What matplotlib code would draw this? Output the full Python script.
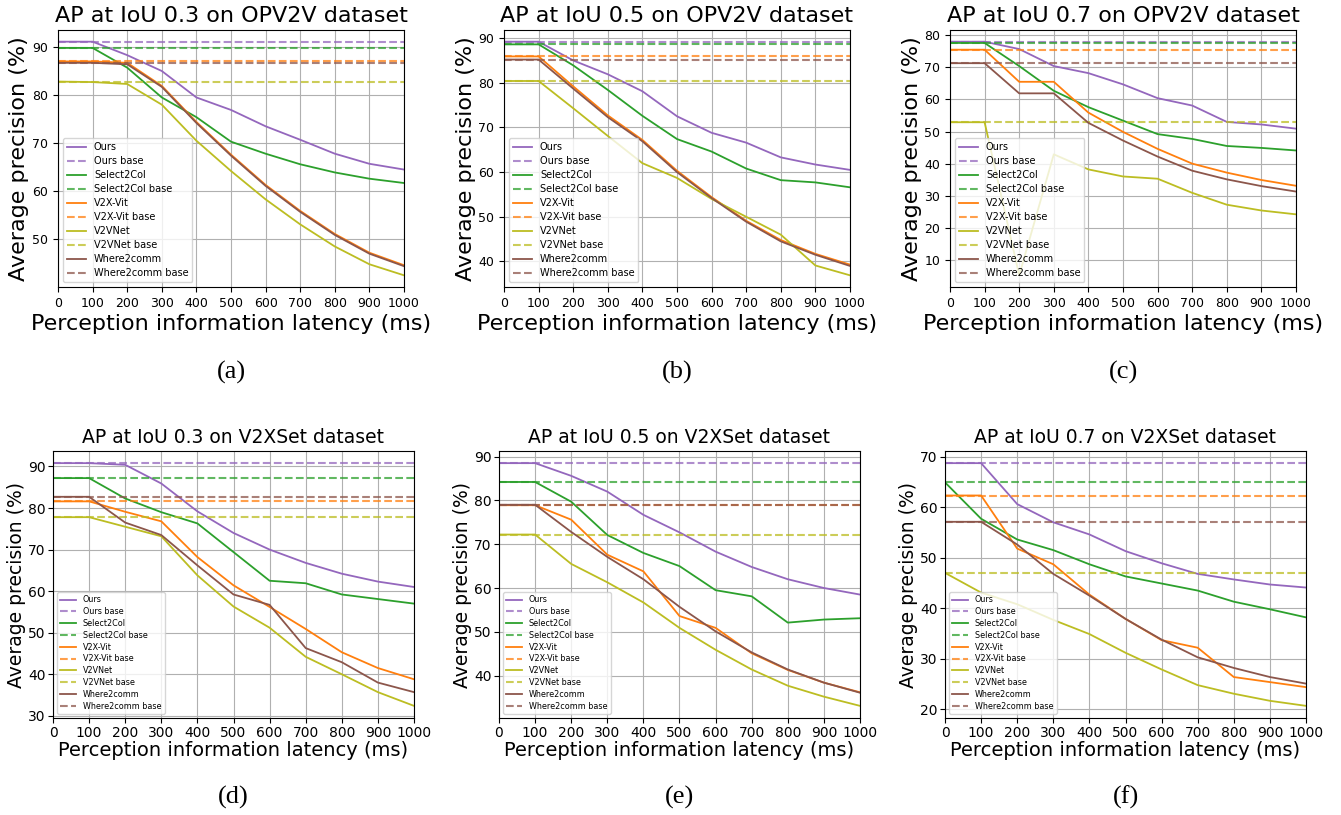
import numpy as np
import matplotlib
matplotlib.use('Agg')
import matplotlib.pyplot as plt

# latency steps (ms)
latency = [0, 100, 200, 300, 400, 500, 600, 700, 800, 900, 1000]
methods = ['Ours', 'Select2Col', 'V2X-Vit', 'V2VNet', 'Where2comm']
colors = ['tab:purple', 'tab:green', 'tab:orange', 'tab:olive', 'tab:brown']

# (a) AP@0.3 OPV2V
a_ours = [91.1, 91.1, 88.3, 85.0, 79.5, 76.9, 73.5, 70.7, 67.8, 65.7, 64.5]
a_s2c = [89.8, 89.8, 85.7, 79.5, 75.4, 70.3, 67.8, 65.6, 63.9, 62.6, 61.7]
a_v2x = [87.0, 87.0, 86.7, 81.9, 74.4, 67.6, 61.3, 55.9, 51.1, 47.2, 44.6]
a_v2v = [82.8, 82.7, 82.3, 78.0, 70.5, 64.2, 58.3, 53.1, 48.5, 44.8, 42.5]
a_w2c = [86.7, 86.7, 86.4, 81.7, 74.2, 67.4, 61.1, 55.7, 50.9, 47.0, 44.4]
a_base = [91.1, 89.8, 87.0, 82.8, 86.7]

# (b) AP@0.5 OPV2V
b_ours = [89.2, 89.2, 85.0, 81.9, 78.1, 72.5, 68.8, 66.6, 63.3, 61.7, 60.5]
b_s2c = [88.6, 88.6, 83.9, 78.4, 72.6, 67.4, 64.6, 60.8, 58.2, 57.7, 56.6]
b_v2x = [85.9, 85.9, 79.2, 72.7, 67.2, 60.3, 54.4, 49.1, 44.8, 41.7, 39.3]
b_v2v = [80.4, 80.4, 74.3, 68.1, 62.0, 58.7, 54.0, 50.0, 46.0, 39.1, 36.9]
b_w2c = [85.2, 85.2, 78.7, 72.3, 66.9, 60.0, 54.2, 48.9, 44.5, 41.5, 39.0]
b_base = [89.2, 88.6, 85.9, 80.4, 85.2]

# (c) AP@0.7 OPV2V
c_ours = [78.0, 78.0, 75.7, 70.4, 68.2, 64.7, 60.4, 58.1, 53.0, 52.2, 50.9]
c_s2c = [77.6, 77.6, 70.4, 62.7, 57.6, 53.4, 49.2, 47.7, 45.5, 44.9, 44.1]
c_v2x = [75.5, 75.5, 65.5, 65.5, 55.9, 49.9, 44.6, 40.0, 37.2, 34.9, 33.1]
c_v2v = [52.9, 52.9, 5.2, 42.9, 38.2, 36.0, 35.3, 30.9, 27.2, 25.4, 24.2]
c_w2c = [71.3, 71.3, 61.9, 61.9, 52.7, 47.2, 42.2, 37.8, 35.1, 33.0, 31.3]
c_base = [78.0, 77.6, 75.5, 52.9, 71.3]

# (d) AP@0.3 V2XSet
d_ours = [90.8, 90.8, 90.4, 85.9, 79.2, 74.0, 70.0, 66.8, 64.2, 62.3, 61.0]
d_s2c = [87.2, 87.2, 82.3, 79.0, 76.3, 69.4, 62.5, 61.9, 59.2, 58.1, 57.0]
d_v2x = [81.6, 81.6, 79.1, 76.8, 68.2, 61.4, 56.2, 50.9, 45.3, 41.5, 38.8]
d_v2v = [77.8, 77.8, 75.5, 73.2, 63.8, 56.3, 51.2, 44.2, 40.0, 35.7, 32.4]
d_w2c = [82.7, 82.7, 76.5, 73.5, 66.2, 59.2, 56.7, 46.3, 42.9, 38.0, 35.7]
d_base = [90.8, 87.2, 81.6, 77.8, 82.7]

# (e) AP@0.5 V2XSet
e_ours = [88.5, 88.5, 85.6, 82.0, 76.7, 72.7, 68.3, 64.8, 62.0, 60.0, 58.5]
e_s2c = [84.2, 84.2, 79.7, 72.1, 68.0, 65.0, 59.5, 58.1, 52.1, 52.8, 53.1]
e_v2x = [78.9, 78.9, 75.6, 67.6, 63.8, 53.6, 50.9, 45.1, 41.3, 38.4, 36.2]
e_v2v = [72.2, 72.2, 65.5, 61.3, 56.7, 50.9, 45.9, 41.4, 37.7, 35.2, 33.1]
e_w2c = [79.0, 79.0, 72.8, 67.1, 62.0, 55.7, 50.1, 45.3, 41.4, 38.4, 36.1]
e_base = [88.5, 84.2, 78.9, 72.2, 79.0]

# (f) AP@0.7 V2XSet
f_ours = [68.7, 68.7, 60.6, 57.0, 54.6, 51.3, 48.9, 46.8, 45.7, 44.7, 44.1]
f_s2c = [64.9, 57.7, 53.6, 51.5, 48.7, 46.3, 44.9, 43.5, 41.3, 39.8, 38.2]
f_v2x = [62.3, 62.3, 51.8, 48.7, 42.7, 37.9, 33.7, 32.2, 26.4, 25.4, 24.4]
f_v2v = [47.0, 43.1, 40.8, 37.7, 34.9, 31.2, 27.9, 24.8, 23.1, 21.7, 20.7]
f_w2c = [57.1, 57.1, 52.6, 46.8, 42.5, 37.9, 33.8, 30.3, 28.2, 26.4, 25.1]
f_base = [68.7, 64.9, 62.3, 47.0, 57.1]

panels = [
    ('AP at IoU 0.3 on OPV2V dataset', [a_ours, a_s2c, a_v2x, a_v2v, a_w2c], a_base, '(a)'),
    ('AP at IoU 0.5 on OPV2V dataset', [b_ours, b_s2c, b_v2x, b_v2v, b_w2c], b_base, '(b)'),
    ('AP at IoU 0.7 on OPV2V dataset', [c_ours, c_s2c, c_v2x, c_v2v, c_w2c], c_base, '(c)'),
    ('AP at IoU 0.3 on V2XSet dataset', [d_ours, d_s2c, d_v2x, d_v2v, d_w2c], d_base, '(d)'),
    ('AP at IoU 0.5 on V2XSet dataset', [e_ours, e_s2c, e_v2x, e_v2v, e_w2c], e_base, '(e)'),
    ('AP at IoU 0.7 on V2XSet dataset', [f_ours, f_s2c, f_v2x, f_v2v, f_w2c], f_base, '(f)'),
]

W, H = 1341, 815
fig = plt.figure(figsize=(W / 100, H / 100), dpi=100)

# axes boxes in pixels: left, right, top, bottom
boxes = [(58, 404, 30, 287), (504, 850, 30, 287), (950, 1296, 30, 287),
         (53, 414, 451, 718), (499, 860, 451, 718), (945, 1306, 451, 718)]

for i, (title, series, base, cap) in enumerate(panels):
    l, r, t, b = boxes[i]
    ax = fig.add_axes([l / W, 1 - b / H, (r - l) / W, (b - t) / H])
    top = i < 3
    big = 16 if top else 13.5
    tick = 9 if top else 10
    for name, col, y, yb in zip(methods, colors, series, base):
        ax.plot(latency, y, color=col, lw=1.3, label=name)
        ax.plot(latency, [yb] * len(latency), color=col, lw=1.5, ls='--',
                alpha=0.75, label=name + ' base')
    ax.set_xlim(0, 1000)
    ax.set_xticks(latency)
    ax.grid(True)
    if top:
        ax.tick_params(labelsize=tick)
        ax.set_xlabel('Perception information latency (ms)', fontsize=16, labelpad=3)
        ax.set_ylabel('Average precision (%)', fontsize=16, labelpad=2)
        ax.legend(loc='lower left', fontsize=7, labelspacing=0.41,
                  handlelength=2.0, borderpad=0.4)
    else:
        ax.tick_params(labelsize=tick, pad=2)
        ax.set_xlabel('Perception information latency (ms)', fontsize=14, labelpad=1)
        ax.set_ylabel('Average precision (%)', fontsize=13.5, labelpad=1)
        ax.legend(loc='lower left', fontsize=5.8, labelspacing=0.35,
                  handlelength=2.0, borderpad=0.4)
    ax.set_title(title, fontsize=big)
    fig.text((l + r) / 2 / W, 1 - (372 if top else 797) / H, cap,
             ha='center', va='center', fontsize=19, family='Liberation Serif')

fig.savefig('out.png', dpi=100)
